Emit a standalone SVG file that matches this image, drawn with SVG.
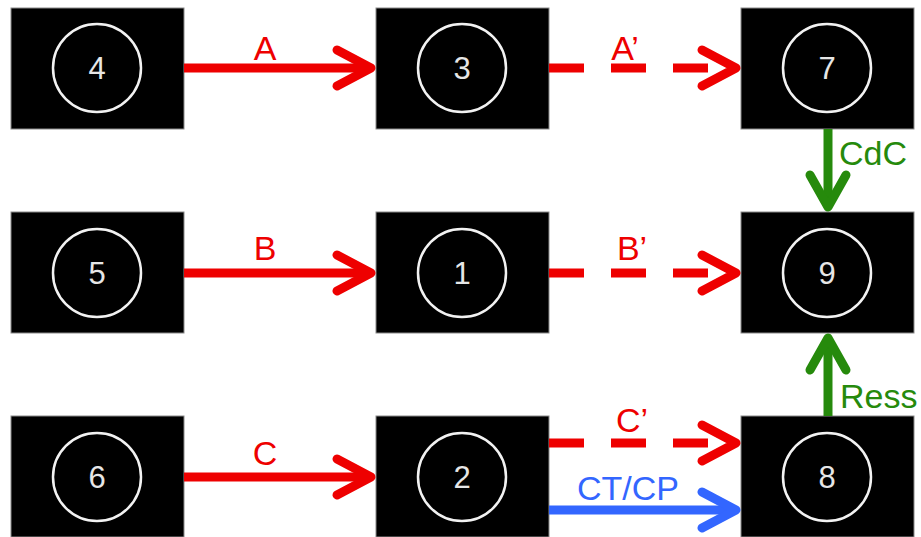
<svg xmlns="http://www.w3.org/2000/svg" width="921" height="537" viewBox="0 0 921 537">
<style>
.box{fill:#000;stroke:#8a8a8a;stroke-width:1}
.ring{fill:none;stroke:#f2f2f2;stroke-width:2.5}
.num{font-family:"Liberation Sans",Arial,sans-serif;font-size:31px;fill:#e6e6e6;text-anchor:middle}
.lbl{font-family:"Liberation Sans",Arial,sans-serif;font-size:34px}
.red{stroke:#ee0000;fill:none;stroke-width:9}
.grn{stroke:#268a0c;fill:none;stroke-width:9}
.blu{stroke:#3366ff;fill:none;stroke-width:9}
.dash{stroke-dasharray:35 27}
</style>
<defs>
<marker id="mr" markerUnits="userSpaceOnUse" markerWidth="60" markerHeight="60" refX="50" refY="30" orient="auto" overflow="visible">
<path d="M16,12 L50,30 L16,48" fill="none" stroke="#ee0000" stroke-width="9" stroke-linecap="round" stroke-linejoin="round"/>
</marker>
<marker id="mg" markerUnits="userSpaceOnUse" markerWidth="60" markerHeight="60" refX="50" refY="30" orient="auto" overflow="visible">
<path d="M18,12 L50,30 L18,48" fill="none" stroke="#268a0c" stroke-width="9" stroke-linecap="round" stroke-linejoin="round"/>
</marker>
<marker id="mb" markerUnits="userSpaceOnUse" markerWidth="60" markerHeight="60" refX="50" refY="30" orient="auto" overflow="visible">
<path d="M16,12 L50,30 L16,48" fill="none" stroke="#3366ff" stroke-width="9" stroke-linecap="round" stroke-linejoin="round"/>
</marker>
</defs>
<rect width="921" height="537" fill="#fff"/>
<g id="n4"><rect class="box" x="11" y="8" width="173" height="121"/><circle class="ring" cx="97" cy="68" r="44"/><text class="num" x="97" y="79">4</text></g>
<g id="n3"><rect class="box" x="376" y="8" width="173" height="121"/><circle class="ring" cx="462" cy="68" r="44"/><text class="num" x="462" y="79">3</text></g>
<g id="n7"><rect class="box" x="741" y="8" width="173" height="121"/><circle class="ring" cx="827" cy="68" r="44"/><text class="num" x="827" y="79">7</text></g>
<g id="n5"><rect class="box" x="11" y="212" width="173" height="121"/><circle class="ring" cx="97" cy="273" r="44"/><text class="num" x="97" y="284">5</text></g>
<g id="n1"><rect class="box" x="376" y="212" width="173" height="121"/><circle class="ring" cx="462" cy="273" r="44"/><text class="num" x="462" y="284">1</text></g>
<g id="n9"><rect class="box" x="741" y="212" width="173" height="121"/><circle class="ring" cx="827" cy="273" r="44"/><text class="num" x="827" y="284">9</text></g>
<g id="n6"><rect class="box" x="11" y="416" width="173" height="121"/><circle class="ring" cx="97" cy="477" r="44"/><text class="num" x="97" y="488">6</text></g>
<g id="n2"><rect class="box" x="376" y="416" width="173" height="121"/><circle class="ring" cx="462" cy="477" r="44"/><text class="num" x="462" y="488">2</text></g>
<g id="n8"><rect class="box" x="741" y="416" width="173" height="121"/><circle class="ring" cx="827" cy="477" r="44"/><text class="num" x="827" y="488">8</text></g>
<g id="connectors">
<line class="red" x1="184" y1="68" x2="371" y2="68" marker-end="url(#mr)"/>
<line class="red" x1="184" y1="273" x2="371" y2="273" marker-end="url(#mr)"/>
<line class="red" x1="184" y1="477" x2="371" y2="477" marker-end="url(#mr)"/>
<line class="red dash" x1="549" y1="68" x2="736" y2="68" marker-end="url(#mr)"/>
<line class="red dash" x1="549" y1="273" x2="736" y2="273" marker-end="url(#mr)"/>
<line class="red dash" x1="549" y1="443" x2="736" y2="443" marker-end="url(#mr)"/>
<line class="blu" x1="549" y1="510" x2="736" y2="510" marker-end="url(#mb)"/>
<line class="grn" x1="828" y1="129" x2="828" y2="207" marker-end="url(#mg)"/>
<line class="grn" x1="828" y1="416" x2="828" y2="338" marker-end="url(#mg)"/>
<text class="lbl" x="265" y="60" fill="#ee0000" text-anchor="middle">A</text>
<text class="lbl" x="265" y="260" fill="#ee0000" text-anchor="middle">B</text>
<text class="lbl" x="265" y="465" fill="#ee0000" text-anchor="middle">C</text>
<text class="lbl" x="625" y="60" fill="#ee0000" text-anchor="middle">A’</text>
<text class="lbl" x="632" y="260" fill="#ee0000" text-anchor="middle">B’</text>
<text class="lbl" x="632" y="432" fill="#ee0000" text-anchor="middle">C’</text>
<text class="lbl" x="628" y="500" fill="#3366ff" text-anchor="middle">CT/CP</text>
<text class="lbl" x="839" y="165" fill="#268a0c">CdC</text>
<text class="lbl" x="840" y="408" fill="#268a0c">Ress</text>
</g>
</svg>
